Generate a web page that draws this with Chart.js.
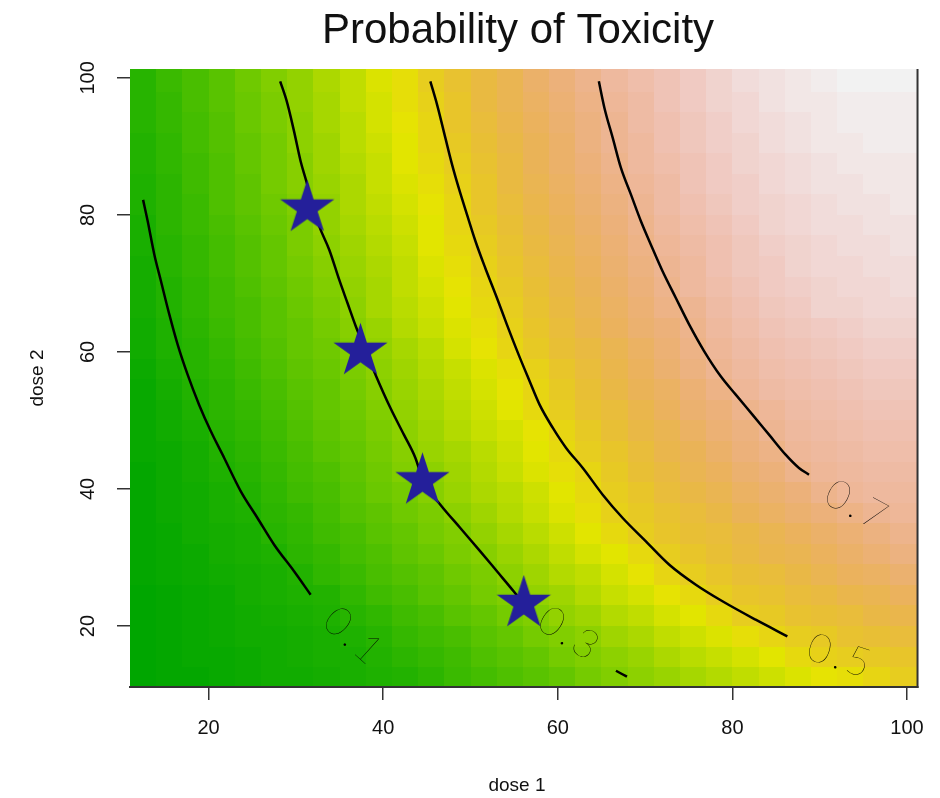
<!DOCTYPE html>
<html>
<head>
<meta charset="utf-8">
<title>Probability of Toxicity</title>
<script src="https://cdn.jsdelivr.net/npm/chart.js@4.4.1/dist/chart.umd.min.js"></script>
<style>
  html, body { margin: 0; padding: 0; background: #fff; }
  #wrap { width: 940px; height: 798px; }
</style>
</head>
<body>
<div id="wrap"><canvas id="chart" width="940" height="798"></canvas></div>
<script>
// grid of doses (cell centres)
const dose1Grid = [12.5, 15.5, 18.5, 21.5, 24.5, 27.5, 30.5, 33.5, 36.5, 39.5, 42.5, 45.5, 48.5, 51.5, 54.5,
                   57.5, 60.5, 63.5, 66.5, 69.5, 72.5, 75.5, 78.5, 81.5, 84.5, 87.5, 90.5, 93.5, 96.5, 99.5];
const dose2Grid = [12.5, 15.5, 18.5, 21.5, 24.5, 27.5, 30.5, 33.5, 36.5, 39.5, 42.5, 45.5, 48.5, 51.5, 54.5,
                   57.5, 60.5, 63.5, 66.5, 69.5, 72.5, 75.5, 78.5, 81.5, 84.5, 87.5, 90.5, 93.5, 96.5, 99.5];

// probability of toxicity in %, one row per dose 2 value (bottom row first)
const toxRows = [
  [3,4,4,5,6,7,7,8,9,10,11,13,16,18,20,22,24,27,29,31,33,35,37,39,41,43,45,46,48,50],
  [3,4,5,5,6,7,8,9,9,11,13,15,17,20,22,24,27,29,31,33,36,38,40,42,44,47,49,50,51,52],
  [3,4,5,6,7,7,8,9,10,12,15,17,19,22,24,27,29,31,34,36,39,41,43,46,48,50,51,53,54,55],
  [3,4,5,6,7,8,9,10,12,14,17,19,22,24,27,29,32,34,37,39,42,44,47,50,51,53,54,55,57,58],
  [3,4,5,6,8,9,10,11,14,17,19,22,24,27,29,32,34,37,40,42,45,47,50,52,53,55,56,58,59,61],
  [4,5,6,7,8,9,11,14,16,19,21,23,26,28,31,34,37,39,42,45,48,50,52,54,55,57,59,61,62,64],
  [4,5,6,8,9,10,13,15,18,20,23,25,28,30,33,36,39,42,44,47,50,52,54,56,58,59,61,63,65,67],
  [4,5,7,8,9,12,14,17,19,22,24,27,29,32,35,38,41,44,47,50,52,54,55,57,59,61,63,65,67,69],
  [4,6,7,9,10,13,15,18,21,23,26,28,31,34,37,40,43,46,49,51,53,55,57,60,62,64,66,68,70,71],
  [4,6,7,9,11,14,17,19,22,25,27,30,33,36,38,41,44,47,50,52,55,57,59,62,64,66,69,71,72,72],
  [4,6,8,10,12,15,18,20,23,26,29,31,34,37,40,43,46,48,51,54,56,59,61,64,66,69,71,72,73,73],
  [5,6,8,11,13,16,19,22,24,27,30,33,35,38,41,44,47,50,52,55,58,60,63,66,68,71,72,73,74,74],
  [5,7,9,12,14,17,20,23,25,28,31,34,37,40,42,45,48,51,54,57,59,62,65,67,70,72,73,74,75,75],
  [5,7,10,13,15,18,21,24,26,29,32,35,38,41,44,47,50,53,55,58,61,64,66,69,71,73,74,75,76,76],
  [5,8,11,13,16,19,22,24,27,30,33,36,39,42,45,48,51,54,57,60,62,65,68,71,73,74,75,76,77,77],
  [6,9,12,14,17,20,23,25,28,31,34,37,40,43,46,49,52,55,58,61,64,67,70,72,74,75,76,77,78,78],
  [7,10,12,15,18,21,24,26,29,32,35,38,42,45,48,51,54,56,59,62,65,68,71,73,75,76,77,78,79,79],
  [7,10,13,16,19,22,24,27,30,33,37,40,43,46,49,52,55,58,61,64,66,69,72,74,76,77,78,79,80,80],
  [8,11,14,17,19,22,25,28,31,35,38,41,44,47,50,53,56,59,62,65,68,70,73,75,77,78,80,80,81,81],
  [8,11,14,17,20,23,26,29,32,35,39,42,45,48,51,54,57,60,63,66,69,72,74,76,78,79,80,81,81,82],
  [8,12,15,18,21,24,27,30,33,36,39,43,46,49,52,55,58,61,64,67,70,72,75,77,78,80,81,81,82,82],
  [9,12,15,18,21,24,28,31,34,37,40,44,47,50,53,56,59,62,65,68,71,73,75,77,79,80,81,82,82,83],
  [9,13,16,19,22,25,28,32,35,38,41,44,48,51,54,57,60,63,66,69,72,74,76,78,80,81,82,82,83,83],
  [10,13,16,20,23,26,29,32,36,39,42,45,48,52,55,58,61,64,67,70,73,75,77,79,80,81,82,83,83,84],
  [10,13,17,20,23,27,30,33,36,40,43,46,49,52,56,59,62,65,68,71,73,76,78,79,81,82,83,83,84,84],
  [11,14,17,20,24,27,30,34,37,40,44,47,50,53,56,60,63,66,69,72,74,76,78,80,81,82,83,84,84,84],
  [11,14,18,21,24,27,31,34,38,41,44,48,51,54,57,60,63,67,70,72,75,77,79,80,82,83,84,84,85,85],
  [12,15,18,21,25,28,31,35,38,42,45,48,52,55,58,61,64,67,70,73,75,77,79,81,82,83,84,85,85,85],
  [12,15,19,22,25,28,32,35,39,42,46,49,52,56,59,62,65,68,71,73,76,78,80,81,83,84,84,85,85,85],
  [12,16,19,22,26,29,32,36,39,43,46,50,53,56,59,63,66,69,72,74,76,78,80,82,83,84,85,86,86,86]
];

// contour lines (dose 1, dose 2)
const c01Dose1 = [12.5, 13.03, 13.79, 14.55, 15.51, 16.46, 17.6, 18.91, 20.26, 21.79, 23.69, 25.6, 27.51, 29.79, 31.69];
const c01Dose2 = [82.2, 79.08, 74.2, 70.32, 65.45, 61.08, 56.69, 52.31, 48.42, 44.53, 39.66, 35.77, 31.87, 27.99, 24.57];
const c03Dose1 = [28.2, 28.95, 29.79, 30.55, 31.2, 32.0, 32.69, 33.83, 34.97, 35.92, 36.88, 38.06, 39.12, 40.83,
                  42.37, 43.69, 44.57, 46.55, 48.83, 51.12, 53.03, 54.94, 57.49];
const c03Dose2 = [99.5, 96.6, 92.2, 87.8, 84.9, 81.0, 78.3, 74.89, 70.51, 67.11, 63.69, 60.0, 56.69, 51.82,
                  47.93, 44.53, 41.17, 37.71, 34.31, 30.9, 27.99, 25.07, 20.88];
const c03TailDose1 = [66.66, 67.92];
const c03TailDose2 = [13.47, 12.6];
const c05Dose1 = [45.4, 46.17, 47.12, 47.89, 48.65, 49.6, 50.57, 51.69, 53.03, 54.17, 55.51, 56.69, 57.91, 59.43,
                  60.95, 62.86, 65.14, 67.43, 70.09, 72.77, 75.81, 78.86, 82.66, 86.29];
const c05Dose2 = [99.5, 96.1, 91.24, 87.34, 83.94, 80.04, 76.16, 72.26, 67.88, 63.99, 59.61, 55.98, 52.31, 48.91,
                  45.99, 43.07, 39.17, 35.77, 32.36, 28.95, 26.03, 23.61, 20.92, 18.5];
const c07Dose1 = [64.7, 65.34, 66.29, 67.23, 68.38, 69.52, 70.66, 72.0, 73.52, 75.05, 76.77, 78.66, 80.38, 82.29,
                  84.19, 86.09, 87.62, 88.77];
const c07Dose2 = [99.5, 95.62, 91.24, 86.86, 82.96, 79.08, 75.66, 71.78, 67.88, 63.99, 60.1, 56.45, 53.77, 50.85,
                  47.93, 45.01, 43.07, 42.09];

// contour labels
const contourLevels = ['0.1', '0.3', '0.5', '0.7'];
const labelDose1 = [36.7, 61.4, 92.4, 94.35];
const labelDose2 = [18.4, 18.8, 15.55, 37.5];
const labelAngle = [42, 33, 18, 28];

// tested dose combinations (stars)
const starDose1 = [31.3, 37.4, 44.5, 56.1];
const starDose2 = [81.0, 60.1, 41.2, 23.3];

const doseTicks = [20, 40, 60, 80, 100];

const FONT = '"Liberation Sans", Arial, sans-serif';

function toXY(xs, ys) {
    return xs.map((x, i) => ({ x: x, y: ys[i] }));
}

// R's terrain.colors, continuous version
function hsv(h, s, v) {
    const i = Math.floor(h * 6), f = h * 6 - i;
    const p = v * (1 - s), q = v * (1 - f * s), t = v * (1 - (1 - f) * s);
    let r, g, b;
    switch (i % 6) {
        case 0: r = v; g = t; b = p; break;
        case 1: r = q; g = v; b = p; break;
        case 2: r = p; g = v; b = t; break;
        case 3: r = p; g = q; b = v; break;
        case 4: r = t; g = p; b = v; break;
        default: r = v; g = p; b = q;
    }
    return `rgb(${Math.round(r * 255)},${Math.round(g * 255)},${Math.round(b * 255)})`;
}
function terrain(f) {
    if (f <= 0.5) {
        const u = f / 0.5;
        return hsv(4 / 12 - 2 / 12 * u, 1, 0.65 + 0.25 * u);
    }
    const t = (f - 0.5) / 0.5;
    return hsv(2 / 12 * (1 - t), 1 - t, 0.9 + 0.05 * t);
}

function starImage(r, color) {
    const s = Math.ceil(r * 2) + 2;
    const cv = document.createElement('canvas');
    cv.width = cv.height = s;
    const g = cv.getContext('2d');
    g.fillStyle = color;
    g.beginPath();
    for (let k = 0; k < 10; k++) {
        const rad = k % 2 ? r * 0.382 : r;
        const a = -Math.PI / 2 + k * Math.PI / 5;
        g.lineTo(s / 2 + rad * Math.cos(a), s / 2 + rad * Math.sin(a));
    }
    g.closePath();
    g.fill();
    return cv;
}

// heatmap cells, painted before the axes
const heatmap = {
    id: 'heatmap',
    beforeDraw(chart) {
        const { ctx, chartArea: a, scales: { x, y } } = chart;
        let lo = Infinity, hi = -Infinity;
        toxRows.forEach(r => r.forEach(v => { lo = Math.min(lo, v); hi = Math.max(hi, v); }));
        const hx = (dose1Grid[1] - dose1Grid[0]) / 2;
        const hy = (dose2Grid[1] - dose2Grid[0]) / 2;
        ctx.save();
        toxRows.forEach((row, j) => {
            const yc = dose2Grid[j];
            const top = j === toxRows.length - 1 ? a.top : Math.round(y.getPixelForValue(yc + hy));
            const bot = j === 0 ? a.bottom : Math.round(y.getPixelForValue(yc - hy));
            row.forEach((v, i) => {
                const xc = dose1Grid[i];
                const left = i === 0 ? a.left : Math.round(x.getPixelForValue(xc - hx));
                const right = i === row.length - 1 ? a.right : Math.round(x.getPixelForValue(xc + hx));
                ctx.fillStyle = terrain((v - lo) / (hi - lo));
                ctx.fillRect(left, top, right - left, bot - top);
            });
        });
        ctx.restore();
    }
};

// contour labels, frame and titles
const decorations = {
    id: 'decorations',
    afterDraw(chart) {
        const { ctx, chartArea: a, scales: { x, y } } = chart;
        ctx.save();
        ctx.fillStyle = '#000';
        ctx.textAlign = 'center';
        ctx.textBaseline = 'middle';
        ctx.font = '200 40px Lato, sans-serif';
        if ('letterSpacing' in ctx) ctx.letterSpacing = '4px';
        contourLevels.forEach((lab, k) => {
            ctx.save();
            ctx.translate(x.getPixelForValue(labelDose1[k]), y.getPixelForValue(labelDose2[k]));
            ctx.rotate(labelAngle[k] * Math.PI / 180);
            ctx.fillText(lab, 0, 0);
            ctx.restore();
        });
        if ('letterSpacing' in ctx) ctx.letterSpacing = '0px';

        // right edge of the box
        ctx.strokeStyle = '#333';
        ctx.lineWidth = 2;
        ctx.beginPath();
        ctx.moveTo(a.right, a.top);
        ctx.lineTo(a.right, a.bottom + 1);
        ctx.stroke();

        ctx.fillStyle = '#111';
        ctx.font = '42px ' + FONT;
        ctx.textBaseline = 'alphabetic';
        ctx.fillText('Probability of Toxicity', 518, 43);

        ctx.font = '19px ' + FONT;
        ctx.textBaseline = 'middle';
        ctx.fillText('dose 1', 517, 786);
        ctx.translate(38, 378);
        ctx.rotate(-Math.PI / 2);
        ctx.fillText('dose 2', 0, 0);
        ctx.restore();
    }
};

const lineStyle = { showLine: true, pointRadius: 0, borderColor: '#000', borderWidth: 2.5,
                    cubicInterpolationMode: 'monotone', order: 2 };

new Chart(document.getElementById('chart'), {
    type: 'scatter',
    data: {
        datasets: [
            { label: 'tested', data: toXY(starDose1, starDose2), pointStyle: starImage(28.5, '#241F9A'), order: 0 },
            Object.assign({ label: '0.1', data: toXY(c01Dose1, c01Dose2) }, lineStyle),
            Object.assign({ label: '0.3', data: toXY(c03Dose1, c03Dose2) }, lineStyle),
            Object.assign({ label: '0.3 tail', data: toXY(c03TailDose1, c03TailDose2) }, lineStyle),
            Object.assign({ label: '0.5', data: toXY(c05Dose1, c05Dose2) }, lineStyle),
            Object.assign({ label: '0.7', data: toXY(c07Dose1, c07Dose2) }, lineStyle)
        ]
    },
    options: {
        responsive: false,
        devicePixelRatio: 1,
        animation: false,
        layout: { padding: { top: 69, right: 20, left: 0, bottom: 0 } },
        plugins: { legend: { display: false }, tooltip: { enabled: false }, title: { display: false } },
        scales: {
            x: {
                type: 'linear', min: 11, max: 101.2,
                afterBuildTicks: s => { s.ticks = doseTicks.map(v => ({ value: v })); },
                afterFit: s => { s.height = 111; },
                grid: { drawOnChartArea: false, drawTicks: true, tickLength: 13, color: '#333', lineWidth: 1.5 },
                border: { display: true, color: '#333', width: 2 },
                ticks: { font: { size: 20, family: FONT }, color: '#111', padding: 16, maxRotation: 0, autoSkip: false }
            },
            y: {
                type: 'linear', min: 11.1, max: 101.3,
                afterBuildTicks: s => { s.ticks = doseTicks.map(v => ({ value: v })); },
                afterFit: s => { s.width = 130; },
                grid: { drawOnChartArea: false, drawTicks: true, tickLength: 13, color: '#333', lineWidth: 1.5 },
                border: { display: false },
                ticks: { font: { size: 20, family: FONT }, color: '#111', padding: 12, minRotation: 90, maxRotation: 90,
                         crossAlign: 'center', autoSkip: false }
            }
        }
    },
    plugins: [heatmap, decorations]
});
</script>
</body>
</html>
